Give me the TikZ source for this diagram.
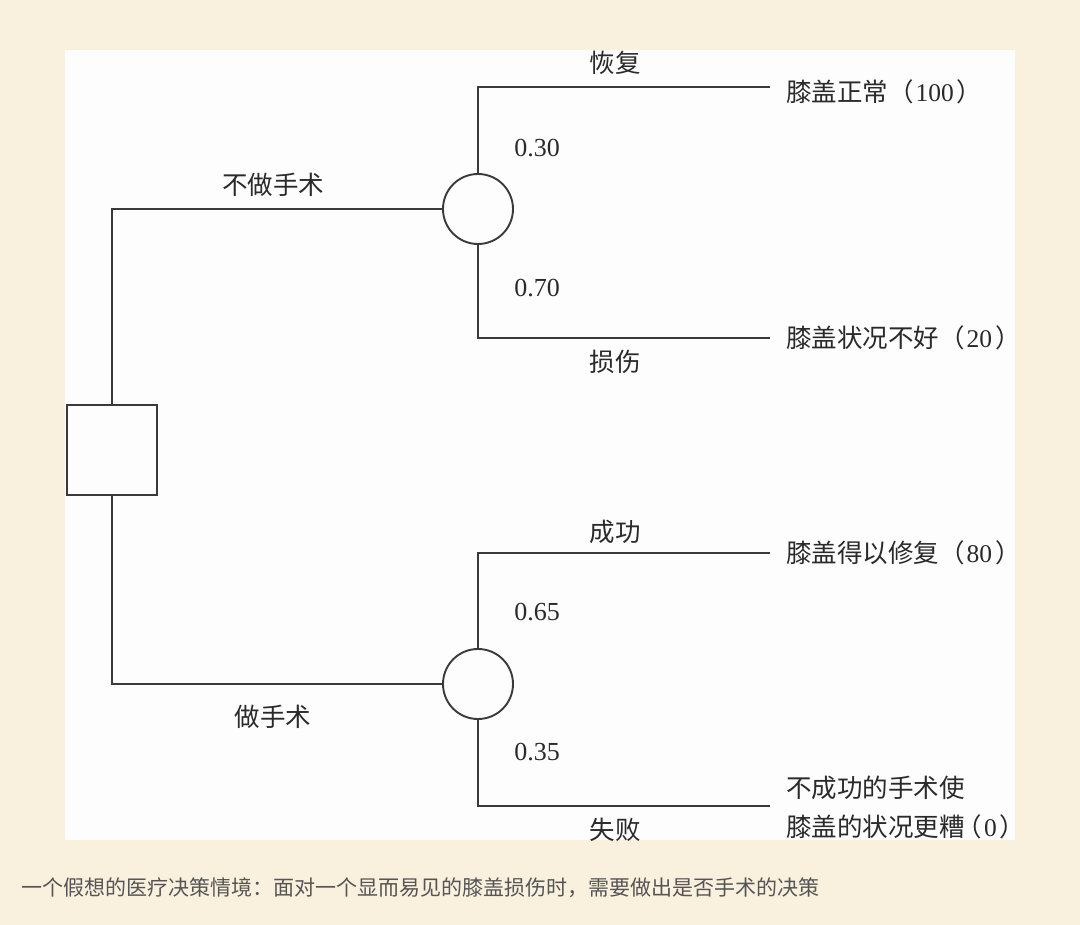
\documentclass[tikz,border=0pt]{standalone}
\usepackage{fontspec}
\setmainfont{Liberation Serif}
\newfontfamily\cjk{Noto Sans CJK SC}
\definecolor{bgcream}{HTML}{FAF0DE}
\definecolor{panelwhite}{HTML}{FDFDFD}
\definecolor{linegray}{HTML}{3A3A3A}
\definecolor{textgray}{HTML}{2A2A2A}
\definecolor{capgray}{HTML}{555555}
\begin{document}
\begin{tikzpicture}[x=1pt,y=-1pt,
  branch/.style={draw=linegray,line width=1.9pt},
  decbox/.style={draw=linegray,line width=1.9pt,fill=panelwhite,minimum width=90pt,minimum height=90pt,inner sep=0pt},
  chance/.style={draw=linegray,line width=1.9pt,fill=panelwhite,circle,minimum size=70pt,inner sep=0pt},
  lbl/.style={font=\fontsize{25.5}{28}\selectfont\cjk,text=textgray,inner sep=0pt},
  prob/.style={font=\fontsize{26}{28}\selectfont,text=textgray,inner sep=0pt},
  outc/.style={font=\fontsize{25.5}{39}\selectfont,text=textgray,inner sep=0pt,anchor=west,align=left}]
\fill[bgcream] (0,0) rectangle (1080,925);
\useasboundingbox (0,0) rectangle (1080,925);
\fill[panelwhite] (65,50) rectangle (1015,840);

\node[decbox] (dec) at (112,450) {};
\node[chance] (c1) at (478,209) {};
\node[chance] (c2) at (478,684) {};

\coordinate (e1) at (770,87);
\coordinate (e2) at (770,338);
\coordinate (e3) at (770,553);
\coordinate (e4) at (770,806);

\draw[branch] (dec.north) |- (c1.west);
\draw[branch] (dec.south) |- (c2.west);
\draw[branch] (c1.north) |- (e1);
\draw[branch] (c1.south) |- (e2);
\draw[branch] (c2.north) |- (e3);
\draw[branch] (c2.south) |- (e4);

\node[lbl] (l1) at (273,185) {不做手术};
\node[lbl] (l2) at (273,717) {做手术};
\node[lbl] (l3) at (615,63) {恢复};
\node[lbl] (l4) at (615,362) {损伤};
\node[lbl] (l5) at (615,532) {成功};
\node[lbl] (l6) at (615,830) {失败};

\node[prob] (p1) at (537,148) {0.30};
\node[prob] (p2) at (537,288) {0.70};
\node[prob] (p3) at (537,612) {0.65};
\node[prob] (p4) at (537,752) {0.35};

\node[outc] (o1) at (786,92) {{\cjk 膝盖正常（}\hspace{2pt}100\hspace{3pt}{\cjk ）}};
\node[outc] (o2) at (786,338) {{\cjk 膝盖状况不好（}\hspace{2pt}20\hspace{3pt}{\cjk ）}};
\node[outc] (o3) at (786,553) {{\cjk 膝盖得以修复（}\hspace{2pt}80\hspace{3pt}{\cjk ）}};
\node[outc] (o4) at (786,807) {{\cjk 不成功的手术使}\\{\cjk 膝盖的状况更糟}{\cjk\hspace{-8pt}（}\hspace{2pt}0\hspace{3pt}{\cjk ）}};

\node[anchor=west,inner sep=0pt,font=\fontsize{21}{24}\selectfont\cjk,text=capgray] (cap) at (21,888) {一个假想的医疗决策情境：面对一个显而易见的膝盖损伤时，需要做出是否手术的决策};
\end{tikzpicture}
\end{document}
